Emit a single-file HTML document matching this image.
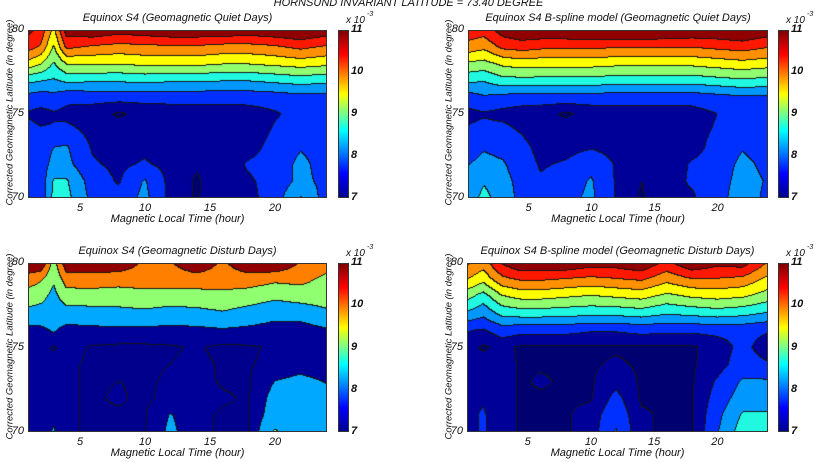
<!DOCTYPE html>
<html><head><meta charset="utf-8"><style>
body{margin:0;background:#fff;width:817px;height:462px;overflow:hidden;position:relative;font-family:"Liberation Sans",sans-serif;font-style:italic;}
.t{position:absolute;font-size:11px;color:#111;white-space:nowrap;}
.plot{position:absolute;border:1px solid #333;box-sizing:border-box;}
canvas{position:absolute;}
.cb{position:absolute;border:1px solid #333;box-sizing:border-box;background:linear-gradient(to top,#00008f 0%,#0000ff 14%,#00ffff 40%,#ffff00 62%,#ff0000 86%,#800000 100%);}
</style></head><body>
<div class="t" style="left:0;width:817px;text-align:center;top:-3px;font-size:11px;">HORNSUND INVARIANT LATITUDE = 73.40 DEGREE</div>
<div id="root"></div>
<script>
// value grids (x10^-3), rows latitude 80 -> 70
const latitudes=[80,79,78,77,76,75,74,73,72,71,70];
const hoursObs=[1,2,3,4,6,8,10,12,14,16,18,20,22,24];
const hoursSpline=[0,1.5,3,4.5,6,8,10,12,14,16,18,20,22,24];
const levels=[6.85,7.25,7.75,8.25,8.75,9.25,9.75,10.25,10.75];
const bandColors=['#000070','#000098','#0030ff','#0098ff','#20f8e0','#90ff70','#ffff00','#ff9000','#ff1800','#900000'];
const coarseLevels=[6.85,7.5,8.5,9.5,10.5];
const coarseColors=['#00008c','#000098','#00a8ff','#90ff70','#ff8000','#900000'];
const cbTicks=[7,8,9,10,11];
const xTicks=[5,10,15,20];
const yTicks=[70,75,80];
const quietObs=[
[10.9,10.6,9.6,11.0,11.2,11.0,11.1,11.2,11.2,11.2,11.1,11.2,11.3,11.1],
[10.5,10.2,9.2,10.4,10.2,10.1,10.15,10.2,10.2,10.1,10.1,10.2,10.4,10.2],
[9.6,9.3,8.7,9.3,9.35,9.3,9.4,9.4,9.4,9.3,9.3,9.4,9.5,9.4],
[8.4,8.3,8.2,8.4,8.35,8.35,8.4,8.35,8.35,8.3,8.3,8.4,8.5,8.4],
[7.6,7.5,7.6,7.4,7.45,7.45,7.45,7.45,7.45,7.45,7.45,7.5,7.6,7.6],
[7.2,7.1,7.2,7.1,7.0,6.8,6.95,7.0,7.0,7.0,7.05,7.2,7.4,7.4],
[7.4,7.3,7.3,7.4,7.1,7.0,7.0,7.0,7.0,7.0,7.0,7.3,7.5,7.5],
[7.55,7.5,7.75,7.8,7.2,7.1,7.15,7.05,7.0,7.0,7.1,7.4,7.7,7.5],
[7.6,7.5,7.9,7.9,7.3,7.15,7.3,7.1,6.9,7.0,7.3,7.4,7.9,7.5],
[7.7,7.4,8.3,8.3,7.5,7.2,7.8,7.1,6.8,7.1,7.2,7.4,7.9,7.6],
[7.8,7.3,8.4,8.4,7.6,7.4,7.9,7.1,6.8,7.2,7.1,7.5,8.3,7.5]];
const quietSpline=[
[10.6,10.5,11.0,11.2,11.2,11.2,11.3,11.4,11.4,11.3,11.2,11.2,11.3,11.1],
[10.1,9.9,10.4,10.5,10.4,10.4,10.4,10.3,10.3,10.3,10.3,10.4,10.5,10.3],
[9.2,9.1,9.4,9.5,9.45,9.45,9.45,9.4,9.4,9.4,9.4,9.5,9.6,9.5],
[8.4,8.3,8.6,8.6,8.6,8.6,8.6,8.5,8.5,8.5,8.5,8.6,8.7,8.6],
[7.5,7.7,7.6,7.55,7.55,7.55,7.55,7.5,7.5,7.5,7.5,7.6,7.7,7.7],
[7.1,7.2,7.1,7.0,6.95,6.8,6.95,7.0,7.0,7.0,7.05,7.25,7.4,7.4],
[7.3,7.4,7.4,7.2,7.0,7.0,7.0,7.0,7.0,7.0,7.1,7.3,7.5,7.5],
[7.5,7.7,7.6,7.4,7.1,7.1,7.2,7.1,7.0,7.0,7.1,7.4,7.7,7.5],
[7.7,7.9,7.8,7.5,7.2,7.3,7.6,7.2,6.95,7.0,7.3,7.4,7.9,7.6],
[7.8,8.2,7.9,7.6,7.3,7.5,7.8,7.2,6.85,7.1,7.3,7.45,8.0,7.7],
[7.9,8.4,8.0,7.6,7.3,7.6,7.85,7.2,6.8,7.2,7.2,7.5,8.1,7.6]];
const disturbObs=[
[11.4,11.5,9.0,11.2,11.3,11.2,10.3,10.4,11.3,10.3,11.3,11.5,10.4,10.0],
[10.0,9.6,8.6,10.0,10.0,9.9,10.0,10.0,10.0,10.0,10.0,9.7,9.8,9.2],
[9.0,8.8,8.2,9.0,9.05,9.0,9.1,9.05,9.1,9.2,9.0,8.7,8.9,9.0],
[8.2,8.1,7.9,8.1,8.1,8.2,8.3,8.1,8.2,8.4,8.1,7.8,7.9,8.3],
[7.2,7.3,7.6,7.2,7.3,7.3,7.3,7.25,7.3,7.4,7.3,7.15,7.1,7.4],
[7.0,7.0,6.8,7.0,6.8,6.75,6.75,6.8,6.9,6.75,6.8,6.9,7.0,7.0],
[7.0,7.0,7.0,6.9,6.8,6.8,6.8,6.85,6.95,6.8,6.8,7.0,7.2,7.0],
[7.0,7.0,7.0,6.9,6.8,6.85,6.8,6.9,7.0,6.8,6.8,7.5,7.7,7.45],
[7.0,7.0,7.0,6.9,6.8,6.9,6.75,7.0,7.0,6.9,6.8,7.8,7.9,7.8],
[7.0,7.0,7.3,6.9,6.8,6.8,6.8,7.55,6.95,6.8,6.8,8.0,7.9,7.9],
[7.05,7.0,7.6,6.9,6.8,6.8,6.8,7.7,6.95,6.8,6.8,8.6,7.9,7.9]];
const disturbSpline=[
[10.4,10.0,10.8,11.2,11.2,11.2,11.0,11.0,11.2,10.6,11.2,10.9,11.0,10.2],
[9.8,9.4,10.1,10.3,10.3,10.2,10.1,10.2,10.3,9.9,10.2,10.2,10.1,9.6],
[9.0,8.5,9.2,9.4,9.4,9.3,9.2,9.3,9.4,9.1,9.3,9.4,9.3,9.0],
[8.2,7.9,8.4,8.5,8.5,8.45,8.4,8.4,8.5,8.3,8.4,8.5,8.4,8.2],
[7.3,7.2,7.5,7.4,7.4,7.4,7.3,7.3,7.4,7.35,7.35,7.4,7.4,7.3],
[7.0,6.8,6.95,6.8,6.8,6.8,6.8,6.8,6.8,6.8,6.8,7.0,7.4,7.0],
[7.0,7.0,7.0,6.8,6.8,6.8,6.8,6.9,6.8,6.8,6.8,7.05,7.5,7.3],
[7.0,7.0,7.0,6.8,6.9,6.8,6.8,7.1,6.8,6.8,6.8,7.3,7.8,7.8],
[7.1,7.2,7.0,6.8,6.8,6.8,6.8,7.4,6.8,6.8,6.8,7.45,8.0,8.0],
[7.1,7.3,7.0,6.8,6.8,6.8,7.0,7.6,6.9,6.8,6.8,7.6,8.3,8.3],
[7.1,7.3,7.0,6.8,6.8,6.8,7.0,7.8,6.9,6.8,6.8,7.7,8.5,8.5]];

const panels=[
 {name:'quiet-observed',title:'Equinox S4 (Geomagnetic Quiet Days)',grid:quietObs,hours:hoursObs,lv:levels,cols:bandColors,x0:1,x1:24,px:28,py:30,pw:299,ph:168,cbx:338,ylx:10},
 {name:'quiet-spline',title:'Equinox S4 B-spline model (Geomagnetic Quiet Days)',grid:quietSpline,hours:hoursSpline,lv:levels,cols:bandColors,x0:0.2,x1:24,px:468,py:30,pw:300,ph:168,cbx:778,ylx:449},
 {name:'disturb-observed',title:'Equinox S4 (Geomagnetic Disturb Days)',grid:disturbObs,hours:hoursObs,lv:coarseLevels,cols:coarseColors,x0:1,x1:24,px:28,py:263,pw:299,ph:169,cbx:338,ylx:10},
 {name:'disturb-spline',title:'Equinox S4 B-spline model (Geomagnetic Disturb Days)',grid:disturbSpline,hours:hoursSpline,lv:levels,cols:bandColors,x0:0.2,x1:24,px:467,py:263,pw:301,ph:169,cbx:778,ylx:449}];
const root=document.getElementById('root');
function band(v,lv){let b=0;for(const l of lv){if(v>=l)b++;}return b;}
function valueAt(p,h,lat){
 const H=p.hours;let i=0;while(i<H.length-2&&h>H[i+1])i++;
 let tx=(h-H[i])/(H[i+1]-H[i]);tx=Math.max(0,Math.min(1,tx));
 const r=(80-lat);let j=Math.min(Math.floor(r),latitudes.length-2);let ty=r-j;
 const g=p.grid;
 const a=g[j][i]*(1-tx)+g[j][i+1]*tx,b=g[j+1][i]*(1-tx)+g[j+1][i+1]*tx;
 return a*(1-ty)+b*ty;}
function hex(c){return [parseInt(c.substr(1,2),16),parseInt(c.substr(3,2),16),parseInt(c.substr(5,2),16)];}
function mk(tag,cls,name,style,text){const e=document.createElement(tag);if(cls)e.className=cls;e.setAttribute('style',style);if(text!==undefined)e.textContent=text;

root.appendChild(e);return e;}
panels.forEach(p=>{
 const rgb=p.cols.map(hex);
 const xs=h=>p.px+(h-p.x0)/(p.x1-p.x0)*p.pw;
 const ys=l=>p.py+(80-l)/10*p.ph;
 const cv=document.createElement('canvas');cv.width=p.pw;cv.height=p.ph;cv.style.left=p.px+'px';cv.style.top=p.py+'px';
 
 
 root.appendChild(cv);
 const ctx=cv.getContext('2d');const img=ctx.createImageData(p.pw,p.ph);
 const B=[];
 for(let y=0;y<p.ph;y++){B.push([]);for(let x=0;x<p.pw;x++){const h=p.x0+(x+0.5)/p.pw*(p.x1-p.x0);const lat=80-(y+0.5)/p.ph*10;B[y].push(band(valueAt(p,h,lat),p.lv));}}
 for(let y=0;y<p.ph;y++)for(let x=0;x<p.pw;x++){const b=B[y][x];let c=rgb[b];
  if((x+1<p.pw&&B[y][x+1]!==b)||(y+1<p.ph&&B[y+1][x]!==b))c=[20,20,20];
  const k=(y*p.pw+x)*4;img.data[k]=c[0];img.data[k+1]=c[1];img.data[k+2]=c[2];img.data[k+3]=255;}
 ctx.putImageData(img,0,0);
 mk('div','plot',p.name+'-frame',`left:${p.px}px;top:${p.py}px;width:${p.pw}px;height:${p.ph}px;`);
 mk('div','t',p.name+'-title',`left:${p.px}px;width:${p.pw}px;text-align:center;top:${p.py-18}px;`,p.title);
 xTicks.forEach(t=>mk('div','t',p.name+'-x-tick',`left:${xs(t)-10}px;width:20px;text-align:center;top:${p.py+p.ph+4}px;`,String(t)));
 yTicks.forEach(t=>mk('div','t',p.name+'-y-tick',`left:${p.px-20}px;width:16px;text-align:right;top:${ys(t)-7}px;`,String(t)));
 mk('div','t',p.name+'-x-axis-title',`left:${p.px}px;width:${p.pw}px;text-align:center;top:${p.py+p.ph+15}px;`,'Magnetic Local Time (hour)');
 mk('div','t',p.name+'-y-axis-title',`left:${p.ylx-100}px;width:200px;text-align:center;top:${p.py+p.ph/2-7}px;transform:rotate(-90deg);font-size:9.5px;`,'Corrected Geomagnetic Latitude (in degree)');
 mk('div','cb',p.name+'-colorbar',`left:${p.cbx}px;top:${p.py}px;width:11px;height:${p.ph}px;`);
 cbTicks.forEach(t=>mk('div','t',p.name+'-colorbar-tick',`left:${p.cbx+13}px;top:${p.py+p.ph-(t-7)/4*p.ph-7}px;font-weight:bold;`,String(t)));
 mk('div','t',p.name+'-colorbar-scale',`left:${p.cbx+8}px;top:${p.py-15}px;font-size:10px;`,'x 10');
 mk('div','t',p.name+'-colorbar-exp',`left:${p.cbx+29}px;top:${p.py-19}px;font-size:7px;`,'-3');
});
</script>
</body></html>
